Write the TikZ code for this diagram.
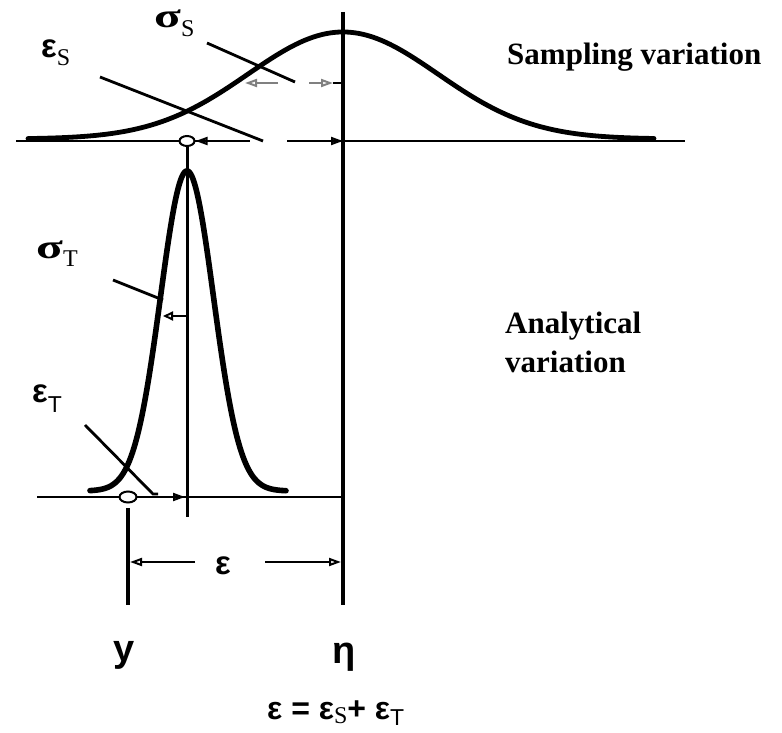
\documentclass[tikz,border=0pt]{standalone}
\usepackage{fontspec}
\setmainfont{Liberation Serif}
\newfontfamily\sansf{Liberation Sans}
\usetikzlibrary{arrows.meta,shapes.geometric}
\newcommand\epsf{\sansf\bfseries\fontsize{33}{33}\selectfont}
\newcommand\sigf{\rmfamily\bfseries\fontsize{34}{34}\selectfont}
\newcommand\subf{\rmfamily\mdseries\fontsize{24}{24}\selectfont}
\newcommand\subsf{\sansf\mdseries\fontsize{23}{23}\selectfont}
\newcommand\bigsf{\sansf\bfseries\fontsize{38}{38}\selectfont}
\newcommand\eqf{\sansf\bfseries\fontsize{32}{32}\selectfont}
\newcommand\txtf{\rmfamily\bfseries\fontsize{31}{39}\selectfont}
\newcommand\widesig{\scalebox{1.45}[1]{σ}}
\begin{document}
\begin{tikzpicture}[x=1pt,y=-1pt,
  axis/.style={line width=2.6pt},
  vline/.style={line width=3.6pt},
  curve/.style={line width=4.8pt, line join=round, line cap=round},
  lead/.style={line width=2.8pt},
  tipr/.style={-{Triangle[open,length=12pt,width=8pt,line width=2pt]}, line width=2.2pt},
  lbl/.style={anchor=base west, inner sep=0pt},
  dot/.style={draw, fill=white, line width=2pt, ellipse, inner sep=0pt},
]
\useasboundingbox (0,0) rectangle (782,733);
% named points
\coordinate (etaT) at (343,12);
\coordinate (etaB) at (343,605);
\coordinate (etaAx) at (343,141);
\coordinate (etaLow) at (343,497);
\coordinate (axL) at (16,141);
\coordinate (axR) at (685,141);
\coordinate (gapL) at (250,141);
\coordinate (gapR) at (287,141);
\coordinate (mS) at (187,141);
\coordinate (mSbot) at (187,517);
\coordinate (bxL) at (37,497);
\coordinate (yT) at (128,508);
\coordinate (yB) at (128,605);
% axes
\draw[axis] (axL) -- (gapL);
\draw[axis] (gapR) -- (axR);
\draw[axis] (bxL) -- (etaLow);
% vertical lines
\draw[vline] (etaT) -- (etaB);
\draw[line width=3pt] (mS) -- (mSbot);
\draw[vline] (yT) -- (yB);
% sampling curve
\draw[curve] plot[domain=28:654, samples=200]
  (\x,{139-107*exp(-0.5*((\x-343)/95)*((\x-343)/95))});
% analytical curve
\draw[curve, line width=5.6pt] plot[domain=90:286, samples=200]
  (\x,{491-320*exp(-0.5*((\x-187)/26.5)*((\x-187)/26.5))});
% ellipses (means)
\node[dot, minimum width=15pt, minimum height=10pt] (dS) at (mS) {};
\node[dot, minimum width=17pt, minimum height=11pt] (dT) at (128,497) {};
% eps_S dimension on top axis
\coordinate (eSa) at (226,141);
\draw[tipr] (eSa) -- (dS.east);
\coordinate (eSb) at (290,141);
\draw[tipr] (eSb) -- (etaAx);
% leaders
\coordinate (lEs1) at (100,77); \coordinate (lEs2) at (263,141);
\draw[lead] (lEs1) -- (lEs2);
\coordinate (lSs1) at (207,43); \coordinate (lSs2) at (295,82);
\draw[lead] (lSs1) -- (lSs2);
% sigma_S arrows
\coordinate (sSa) at (278,83); \coordinate (sSb) at (245,83);
\draw[tipr, gray] (sSa) -- (sSb);
\coordinate (sSc) at (309,83); \coordinate (sSd) at (333,83); \coordinate (sSe) at (343,83);
\draw[tipr, gray] (sSc) -- (sSd);
\draw[line width=2.6pt] (sSd) -- (sSe);
% sigma_T
\coordinate (lSt1) at (113,280); \coordinate (lSt2) at (163,300);
\draw[lead] (lSt1) -- (lSt2);
\coordinate (sTa) at (187,316); \coordinate (sTb) at (163,316);
\draw[-{Triangle[open,length=10pt,width=9pt,line width=2pt]}, line width=2.2pt] (sTa) -- (sTb);
% eps_T
\coordinate (lEt1) at (85,425); \coordinate (lEt2) at (153,494); \coordinate (lEt3) at (158,494);
\draw[lead] (lEt1) -- (lEt2) -- (lEt3);
\coordinate (eTa) at (160,497); \coordinate (eTb) at (185,497);
\draw[tipr] (eTa) -- (eTb);
% eps dimension
\coordinate (eA) at (195,562); \coordinate (eB) at (130,562);
\coordinate (eC) at (265,562); \coordinate (eD) at (341,562);
\draw[tipr] (eA) -- (eB);
\draw[tipr] (eC) -- (eD);
% labels
\node[lbl] (LeS) at (41,58) {\epsf ε\lower8pt\hbox{\subf S}};
\node[lbl] (LsS) at (154,28) {\sigf\widesig\lower9pt\hbox{\subf S}};
\node[lbl] (LsT) at (36,258) {\sigf\widesig\lower9pt\hbox{\subf T}};
\node[lbl] (LeT) at (32,402) {\epsf ε\lower10pt\hbox{\subsf T}};
\node[lbl] (Le) at (215,574) {\epsf ε};
\node[anchor=base, inner sep=0pt] (Ly) at (124,661) {\bigsf y};
\node[anchor=base, inner sep=0pt] (Leta) at (344,663) {\bigsf η};
\node[lbl] (Leq) at (267,719) {\eqf ε = ε\lower4pt\hbox{\subf S}+ ε\lower6pt\hbox{\subsf T}};
\node[lbl] (Lsamp) at (507,65) {\txtf Sampling variation};
\node[lbl] (Lan1) at (505,333) {\txtf Analytical};
\node[lbl] (Lan2) at (505,372) {\txtf variation};
\end{tikzpicture}
\end{document}
